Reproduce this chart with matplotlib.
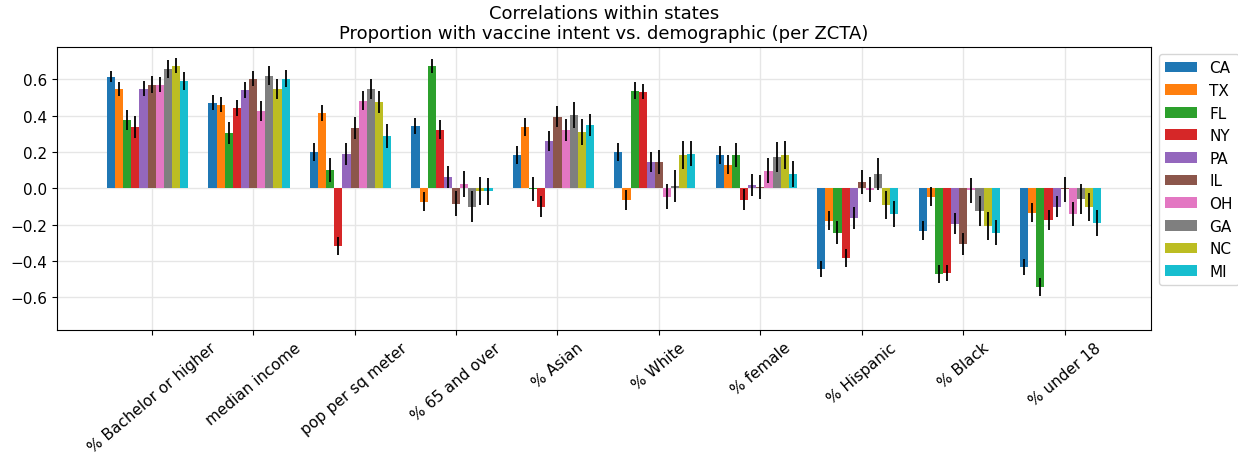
import numpy as np
import matplotlib.pyplot as plt

demographics = ['% Bachelor or higher', 'median income', 'pop per sq meter',
                '% 65 and over', '% Asian', '% White', '% female',
                '% Hispanic', '% Black', '% under 18']
states = ['CA', 'TX', 'FL', 'NY', 'PA', 'IL', 'OH', 'GA', 'NC', 'MI']

# correlation per state (rows) for each demographic (columns)
corr = {
    'CA': [0.615, 0.471, 0.200, 0.344, 0.184, 0.200, 0.184, -0.444, -0.234, -0.433],
    'TX': [0.548, 0.460, 0.415, -0.074, 0.339, -0.063, 0.129, -0.179, -0.046, -0.135],
    'FL': [0.377, 0.306, 0.101, 0.674, -0.002, 0.538, 0.184, -0.245, -0.472, -0.543],
    'NY': [0.339, 0.444, -0.317, 0.322, -0.101, 0.532, -0.063, -0.383, -0.466, -0.173],
    'PA': [0.548, 0.542, 0.190, 0.062, 0.261, 0.145, 0.018, -0.162, -0.195, -0.101],
    'IL': [0.571, 0.604, 0.332, -0.085, 0.394, 0.145, 0.007, 0.035, -0.306, -0.005],
    'OH': [0.571, 0.427, 0.482, 0.024, 0.322, -0.046, 0.096, -0.008, -0.010, -0.140],
    'GA': [0.659, 0.620, 0.547, -0.101, 0.405, 0.013, 0.173, 0.079, -0.124, -0.057],
    'NC': [0.676, 0.548, 0.477, -0.013, 0.311, 0.184, 0.184, -0.090, -0.206, -0.101],
    'MI': [0.589, 0.604, 0.289, -0.017, 0.350, 0.190, 0.079, -0.140, -0.245, -0.190],
}
# half-width of error bars
err = {
    'CA': [0.032, 0.041, 0.050, 0.046, 0.052, 0.052, 0.052, 0.043, 0.052, 0.045],
    'TX': [0.040, 0.042, 0.045, 0.053, 0.048, 0.054, 0.052, 0.052, 0.053, 0.052],
    'FL': [0.055, 0.060, 0.064, 0.040, 0.066, 0.048, 0.064, 0.063, 0.050, 0.048],
    'NY': [0.060, 0.045, 0.052, 0.052, 0.057, 0.040, 0.058, 0.050, 0.045, 0.056],
    'PA': [0.042, 0.043, 0.060, 0.060, 0.056, 0.057, 0.060, 0.059, 0.057, 0.059],
    'IL': [0.046, 0.042, 0.062, 0.068, 0.058, 0.067, 0.068, 0.068, 0.062, 0.068],
    'OH': [0.040, 0.055, 0.052, 0.070, 0.060, 0.069, 0.069, 0.068, 0.068, 0.067],
    'GA': [0.050, 0.053, 0.055, 0.086, 0.072, 0.086, 0.083, 0.086, 0.083, 0.083],
    'NC': [0.042, 0.054, 0.060, 0.078, 0.070, 0.075, 0.075, 0.077, 0.076, 0.077],
    'MI': [0.049, 0.047, 0.066, 0.074, 0.062, 0.069, 0.072, 0.072, 0.069, 0.070],
}

fig = plt.figure(figsize=(12.38, 4.56), dpi=100)
ax = fig.add_axes([0.0463, 0.274, 0.8834, 0.6214])

x = np.arange(len(demographics))
width = 0.08
for i, st in enumerate(states):
    ax.bar(x + (i - 5) * width, corr[st], width, yerr=err[st], label=st,
           color='C%d' % i, error_kw=dict(ecolor='black', elinewidth=1.3, capsize=0))

ax.set_xticks(x)
ax.set_xticklabels(demographics, rotation=40, fontsize=11)
ax.set_yticks([-0.6, -0.4, -0.2, 0.0, 0.2, 0.4, 0.6])
ax.tick_params(axis='y', labelsize=11)
ax.set_ylim(-0.78, 0.78)
ax.grid(True, color='#e6e6e6', linewidth=1)
ax.set_axisbelow(True)
ax.set_title('Correlations within states\nProportion with vaccine intent vs. demographic (per ZCTA)',
             fontsize=13)
ax.legend(loc='upper left', bbox_to_anchor=(1.003, 0.99), fontsize=11,
          handlelength=2.1, borderaxespad=0.3)

plt.savefig('out.png')
